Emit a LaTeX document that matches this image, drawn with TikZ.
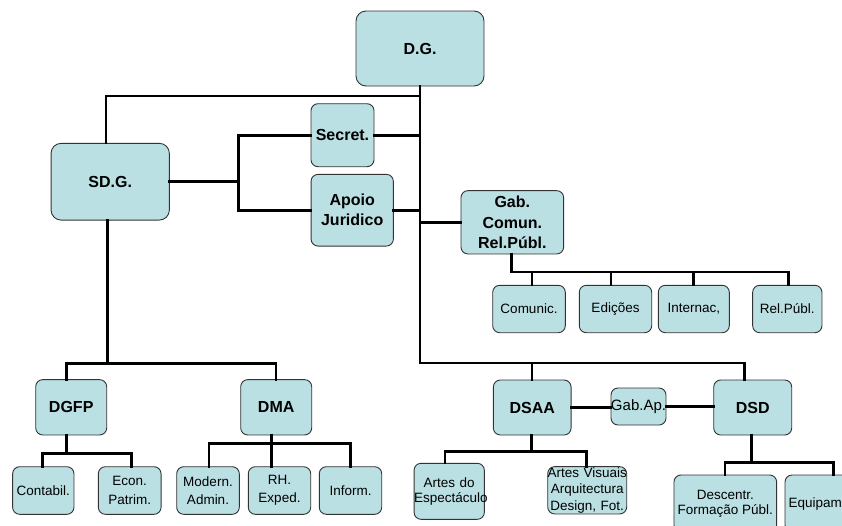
\documentclass[tikz,border=0pt]{standalone}
\usepackage{fontspec}
\setmainfont{Liberation Sans}
\definecolor{boxfill}{HTML}{BBE0E3}
\definecolor{boxline}{HTML}{333333}
\begin{document}
\begin{tikzpicture}[x=1pt,y=-1pt,
  box/.style={draw=boxline, line width=0.9pt, fill=boxfill, rounded corners=7pt, inner sep=0pt, align=center, anchor=center},
  big/.style={box, font=\bfseries\fontsize{16}{20}\selectfont},
  small/.style={box, font=\fontsize{13.5}{18.3}\selectfont},
  conn/.style={line width=2.7pt, line join=miter, line cap=rect}]
\useasboundingbox (0,0) rectangle (842,525);

% top level
\node[big, minimum width=128pt, minimum height=75pt, rounded corners=10pt] (DG) at (420,48.5) {D.G.};
\node[big, minimum width=118.3pt, minimum height=76.7pt, rounded corners=10pt] (SDG) at (110.2,181.7) {SD.G.};
\node[big, minimum width=63pt, minimum height=63pt] (Secret) at (342.5,135.2) {Secret.};
\node[big, minimum width=82.3pt, minimum height=71.7pt] (Apoio) at (352.2,210.2) {Apoio\\Juridico};
\node[big, minimum width=102.7pt, minimum height=63.3pt, font=\bfseries\fontsize{16}{20.5}\selectfont] (Gab) at (512.3,222.3) {Gab.\\Comun.\\Rel.Públ.};

% Gab children
\node[small, minimum width=72.6pt, minimum height=47.4pt] (Comunic) at (529,309) {Comunic.};
\node[small, minimum width=72.4pt, minimum height=47.4pt] (Edicoes) at (615.5,309) {Edições};
\node[small, minimum width=71pt, minimum height=47.4pt] (Internac) at (693.8,309) {Internac,};
\node[small, minimum width=69.3pt, minimum height=47.4pt] (RelPubl) at (787.3,309) {Rel.Públ.};

% second level
\node[big, minimum width=71pt, minimum height=55.3pt] (DGFP) at (71.2,407.3) {DGFP};
\node[big, minimum width=71pt, minimum height=55.3pt] (DMA) at (276.2,407.3) {DMA};
\node[big, minimum width=77.7pt, minimum height=55pt] (DSAA) at (532.2,407.5) {DSAA};
\node[box, minimum width=55pt, minimum height=37pt, font=\fontsize{15}{18}\selectfont] (GabAp) at (638.5,406.5) {Gab.Ap.};
\node[big, minimum width=78pt, minimum height=55pt] (DSD) at (752.7,407.5) {DSD};

% third level
\node[small, minimum width=61.3pt, minimum height=47.6pt] (Contabil) at (43.3,490.5) {Contabil.};
\node[small, minimum width=62.7pt, minimum height=47.6pt] (Econ) at (129.7,490.5) {Econ.\\Patrim.};
\node[small, minimum width=62.6pt, minimum height=47.6pt] (Modern) at (208,490.5) {Modern.\\Admin.};
\node[small, minimum width=62.4pt, minimum height=47.6pt] (RH) at (279.5,490.5) {RH.\\Exped.};
\node[small, minimum width=62.4pt, minimum height=47.6pt] (Inform) at (350.5,490.5) {Inform.};
\node[box, text width=70.3pt, minimum height=56pt, font=\fontsize{13.5}{15}\selectfont] (ArtesDo) at (449.2,491.3) {Artes do\\\mbox{Espectáculo}};
\node[box, text width=79pt, minimum height=47.3pt, font=\fontsize{13.5}{16.7}\selectfont] (ArtesVis) at (587.2,490.3) {\mbox{Artes Visuais}\\Arquitectura\\Design, Fot.};
\node[box, minimum width=102.7pt, minimum height=57pt, font=\fontsize{13.5}{15}\selectfont] (Descentr) at (725.3,503.5) {Descentr.\\Formação Públ.};
\node[box, text width=89pt, inner xsep=3.5pt, align=left, minimum height=57pt, font=\fontsize{13.5}{15}\selectfont] (Equipam) at (833,503.5) {Equipam};

% tap coordinates
\coordinate (topL) at (106,96);
\coordinate (br) at (238.7,181.7);
\coordinate (tB) at (421.5,363);
\coordinate (dsdTap) at (744.3,363);
\coordinate (dsaaTap) at (532,363);
\coordinate (lV) at (107.7,363.7);
\coordinate (lL) at (66.7,363.7);
\coordinate (lR) at (276,363.7);
\coordinate (gV) at (511.7,272);
\coordinate (g1) at (532,272);
\coordinate (g2) at (611,272);
\coordinate (g3) at (693.3,272);
\coordinate (g4) at (788.7,272);
\coordinate (fV) at (66.7,453.3);
\coordinate (fL) at (42.7,453.3);
\coordinate (fR) at (131.7,453.3);
\coordinate (mV) at (271.7,443.3);
\coordinate (mL) at (209,443.3);
\coordinate (mR) at (350.7,443.3);
\coordinate (aV) at (531.7,451.7);
\coordinate (aL) at (445,451.7);
\coordinate (aR) at (586.7,451.7);
\coordinate (sV) at (751.7,462.3);
\coordinate (sL) at (725,462.3);
\coordinate (sR) at (833.3,462.3);

% connectors
\draw[conn] (DG.south) -- (DG.south |- tB) -- (dsdTap) -- (dsdTap |- DSD.north);
\draw[conn] (dsaaTap) -- (dsaaTap |- DSAA.north);
\draw[conn] (topL |- SDG.north) -- (topL) -- (topL -| DG.south);
\draw[conn] (Secret.east) -- (Secret.east -| DG.south);
\draw[conn] (Apoio.east) -- (Apoio.east -| DG.south);
\draw[conn] (Gab.west) -- (Gab.west -| DG.south);
\draw[conn] (SDG.east) -- (SDG.east -| br);
\draw[conn] (Secret.west) -| (br) |- (Apoio.west);
\draw[conn] (lV |- SDG.south) -- (lV);
\draw[conn] (lL |- DGFP.north) -- (lL) -- (lR) -- (lR |- DMA.north);
\draw[conn] (gV |- Gab.south) -- (gV) -- (g4) -- (g4 |- RelPubl.north);
\draw[conn] (g1) -- (g1 |- Comunic.north);
\draw[conn] (g2) -- (g2 |- Edicoes.north);
\draw[conn] (g3) -- (g3 |- Internac.north);
\draw[conn] (DSAA.east) -- (GabAp.west |- DSAA.east);
\draw[conn] (GabAp.east) -- (DSD.west |- GabAp.east);
\draw[conn] (fV |- DGFP.south) -- (fV);
\draw[conn] (fL |- Contabil.north) -- (fL) -- (fR) -- (fR |- Econ.north);
\draw[conn] (mV |- DMA.south) -- (mV |- RH.north);
\draw[conn] (mL |- Modern.north) -- (mL) -- (mR) -- (mR |- Inform.north);
\draw[conn] (aV |- DSAA.south) -- (aV);
\draw[conn] (aL |- ArtesDo.north) -- (aL) -- (aR) -- (aR |- ArtesVis.north);
\draw[conn] (sV |- DSD.south) -- (sV);
\draw[conn] (sL |- Descentr.north) -- (sL) -- (sR) -- (sR |- Equipam.north);
\end{tikzpicture}
\end{document}
